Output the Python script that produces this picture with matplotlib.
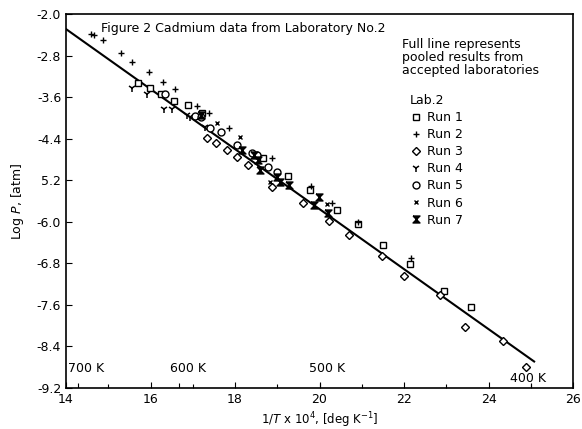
import numpy as np
import matplotlib
matplotlib.use("Agg")
import matplotlib.pyplot as plt

# pooled-results line (1/T x 10^4 , log P)
line_x = [14.0, 25.08]
line_y = [-2.29, -8.69]

# Lab. 2 runs
run1_x = [15.70, 15.98, 16.25, 16.56, 16.88, 17.23, 18.66, 19.26, 19.77, 20.41, 20.92, 21.51, 22.15, 22.94, 23.59]
run1_y = [-3.32, -3.43, -3.54, -3.67, -3.75, -3.91, -4.78, -5.11, -5.39, -5.78, -6.04, -6.45, -6.82, -7.33, -7.65]

run2_x = [14.59, 14.67, 14.88, 15.30, 15.56, 15.96, 16.30, 16.59, 17.11, 17.38, 17.85, 18.87, 19.81, 20.30, 20.92, 22.17]
run2_y = [-2.39, -2.41, -2.50, -2.75, -2.92, -3.11, -3.30, -3.44, -3.77, -3.90, -4.20, -4.78, -5.32, -5.64, -6.01, -6.69]

run3_x = [17.34, 17.56, 17.81, 18.05, 18.30, 18.87, 19.61, 20.23, 20.70, 21.48, 21.99, 22.85, 23.44, 24.35, 24.88]
run3_y = [-4.39, -4.48, -4.62, -4.75, -4.91, -5.34, -5.63, -5.99, -6.25, -6.66, -7.04, -7.41, -8.02, -8.30, -8.79]

run4_x = [15.56, 15.92, 16.33, 16.52, 16.87, 16.94, 17.30]
run4_y = [-3.43, -3.54, -3.82, -3.82, -3.94, -3.98, -4.17]

run5_x = [16.34, 17.05, 17.19, 17.42, 17.66, 18.05, 18.40, 18.52, 18.79, 19.00]
run5_y = [-3.54, -3.96, -3.99, -4.20, -4.27, -4.52, -4.68, -4.71, -4.94, -5.05]

run6_x = [17.58, 18.11, 18.83, 20.17]
run6_y = [-4.10, -4.36, -5.23, -5.66]

run7_x = [17.19, 18.16, 18.45, 18.55, 18.59, 19.00, 19.06, 19.28, 19.88, 19.98, 20.19]
run7_y = [-3.94, -4.62, -4.72, -4.81, -5.00, -5.13, -5.23, -5.29, -5.68, -5.52, -5.84]

temps = [700, 600, 500, 400]
temp_label_dx = [-0.25, -0.2, -0.25, -0.5]
temp_label_y = [-8.82, -8.82, -8.82, -9.02]

y_ticks = [-2.0, -2.8, -3.6, -4.4, -5.2, -6.0, -6.8, -7.6, -8.4, -9.2]
y_ticklabels = ['-2.0', '-2.8', '-3.6', '-4.4', '5.2', '-6.0', '-6.8', '-7.6', '-8.4', '-9.2']
x_ticks = [14, 16, 18, 20, 22, 24, 26]

hourglass = [(-1, 1), (1, 1), (-1, -1), (1, -1), (-1, 1)]

fig = plt.figure(figsize=(5.82, 4.29), dpi=100)
ax = fig.add_axes([66 / 582, 1 - 388 / 429, 507 / 582, 374 / 429])

ax.plot(line_x, line_y, color='black', linewidth=1.5, zorder=2)

ms = dict(linestyle='none', color='black', zorder=3)
h1, = ax.plot(run1_x, run1_y, marker='s', markersize=5, markerfacecolor='white', markeredgewidth=1, label='Run 1', **ms)
h2, = ax.plot(run2_x, run2_y, marker='+', markersize=4, markeredgewidth=1, label='Run 2', **ms)
h3, = ax.plot(run3_x, run3_y, marker='D', markersize=4.5, markerfacecolor='white', markeredgewidth=1, label='Run 3', **ms)
h4, = ax.plot(run4_x, run4_y, marker='1', markersize=6, markeredgewidth=1.1, label='Run 4', **ms)
h5, = ax.plot(run5_x, run5_y, marker='o', markersize=5, markerfacecolor='white', markeredgewidth=1, label='Run 5', **ms)
h6, = ax.plot(run6_x, run6_y, marker='x', markersize=3.5, markeredgewidth=1, label='Run 6', **ms)
h7, = ax.plot(run7_x, run7_y, marker=hourglass, markersize=5, markerfacecolor='black', label='Run 7', **ms)

ax.set_xlim(14, 26)
ax.set_ylim(-9.2, -2.0)
ax.set_xticks(x_ticks)
ax.set_xticks(np.arange(15, 26, 2), minor=True)
ax.set_yticks(y_ticks)
ax.set_yticklabels(y_ticklabels)
ax.tick_params(direction='in', length=4, width=0.8, labelsize=9, top=False, right=False)
ax.tick_params(which='minor', direction='in', length=3, width=0.8)
for sp in ax.spines.values():
    sp.set_linewidth(1.2)

# temperature marks along the bottom axis
for T, dx, ty in zip(temps, temp_label_dx, temp_label_y):
    xt = 1e4 / T
    ax.vlines(xt, -9.2, -9.1, color='black', linewidth=0.8)
    ax.text(xt + dx, ty, f"{T} K", fontsize=9, va='center', ha='left')

ax.set_xlabel("1/$T$ x 10$^4$, [deg K$^{-1}$]", fontsize=8.5, labelpad=3)
ax.set_ylabel("Log $P$, [atm]", fontsize=9, labelpad=8)

ax.text(0.069, 0.962, "Figure 2 Cadmium data from Laboratory No.2", transform=ax.transAxes,
        fontsize=9, va='center', ha='left')
ax.text(0.662, 0.935, "Full line represents\npooled results from\naccepted laboratories",
        transform=ax.transAxes, fontsize=9, va='top', ha='left', linespacing=1.0)

leg = ax.legend(handles=[h1, h2, h3, h4, h5, h6, h7], title='Lab.2', loc='upper left',
                bbox_to_anchor=(0.66, 0.81), frameon=False, fontsize=9, title_fontsize=9,
                labelspacing=0.33, handlelength=1.0, handletextpad=0.4, borderpad=0.2)
leg._legend_box.align = 'left'

fig.savefig("out.png", dpi=100)
